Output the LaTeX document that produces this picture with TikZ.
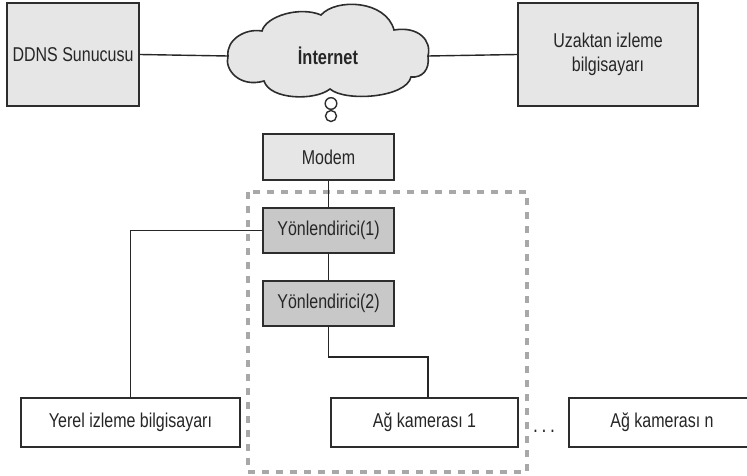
\documentclass[tikz,border=0pt]{standalone}
\usepackage{fontspec}
\setmainfont{Liberation Sans}[FakeStretch=0.8]
\definecolor{boxline}{RGB}{45,45,45}
\definecolor{lightfill}{RGB}{230,230,230}
\definecolor{rtrfill}{RGB}{200,200,200}
\definecolor{zonegray}{RGB}{168,168,168}
\tikzset{
  base/.style={draw=boxline,line width=1.6pt,text=black!85,inner sep=0pt,
    font=\fontsize{20}{24}\selectfont,align=center},
  topbox/.style={base,fill=lightfill},
  rtrbox/.style={base,fill=rtrfill,minimum width=131,minimum height=45},
  endbox/.style={base,fill=white,minimum height=49},
  link/.style={draw=black!85,line width=1.4pt},
}
\begin{document}
\begin{tikzpicture}[x=1pt,y=1pt,yscale=-1]
\path[use as bounding box,clip] (0,0) rectangle (747,476);

% dashed zone round the routers
\draw[zonegray,line width=3.4pt,dash pattern=on 7pt off 7pt] (248,192) rectangle (527,472);

% cloud
\draw[line width=1.6pt,draw=boxline,fill=lightfill] (228,56)
  .. controls (226,40) and (245,28) .. (262,31)
  .. controls (266,16) and (300,6) .. (321,15)
  .. controls (336,-2) and (386,0) .. (394,30)
  .. controls (418,26) and (432,40) .. (428,56)
  .. controls (430,70) and (422,78) .. (411,77)
  .. controls (406,98) and (345,102) .. (330,89)
  .. controls (315,101) and (270,100) .. (264,81)
  .. controls (240,88) and (224,70) .. (228,56) -- cycle;
\coordinate (cloudw) at (228,56);
\coordinate (cloude) at (428,56);
\node[font=\bfseries\fontsize{20.5}{24}\selectfont,text=black!85] (inet) at (328,56) {İnternet};
\draw[line width=1.4pt,draw=boxline] (331,103.5) circle (5.8);
\draw[line width=1.4pt,draw=boxline] (331,116) circle (5.5);

\node[topbox,minimum width=132,minimum height=103] (ddns) at (73,54.5) {DDNS Sunucusu};
\node[topbox,minimum width=180,minimum height=103] (remote) at (608,54.5) {Uzaktan izleme\\bilgisayarı};
\node[topbox,minimum width=131,minimum height=46] (modem) at (328.5,157) {Modem};
\node[rtrbox] (rtrone) at (328.5,230.5) {Yönlendirici(1)};
\node[rtrbox] (rtrtwo) at (328.5,303.5) {Yönlendirici(2)};
\node[endbox,minimum width=219] (local) at (130.5,422.5) {Yerel izleme bilgisayarı};
\node[endbox,minimum width=187] (camone) at (424.5,422.5) {Ağ kamerası 1};
\node[endbox,minimum width=186] (camn) at (662,422.5) {Ağ kamerası n};
\node[anchor=base,font=\fontsize{22}{24}\selectfont,text=black!85] (dots) at (544,432) {.\,.\,.};

\draw[link] (ddns.east) -- (cloudw);
\draw[link] (cloude) -- (remote.west);
\draw[link] (modem.south) -- (rtrone.north);
\draw[link] (rtrone.south) -- (rtrtwo.north);
\draw[link] (rtrone.west) -| (local.north);
\draw[link] (rtrtwo.south) -- ++(0,30) -| ([xshift=3.5]camone.north);
\end{tikzpicture}
\end{document}
